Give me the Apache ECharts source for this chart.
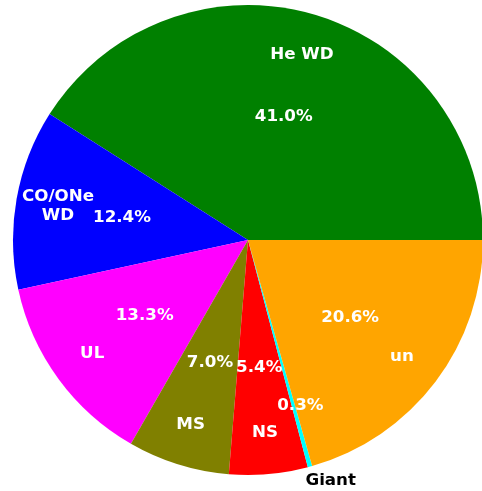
<!DOCTYPE html>
<html>
<head>
<meta charset="utf-8">
<script src="https://cdn.jsdelivr.net/npm/echarts@6/dist/echarts.min.js"></script>
<style>
  html, body { margin: 0; padding: 0; background: #fff; }
  #pie { width: 482px; height: 491px; }
</style>
</head>
<body>
<div id="pie"></div>
<script>
var names = ['He WD', 'CO/ONe\nWD', 'UL', 'MS', 'NS', 'Giant', 'un'];
var shares = [41.0, 12.4, 13.3, 7.0, 5.4, 0.3, 20.6];
var colors = ['#008000', '#0000ff', '#ff00ff', '#808000', '#ff0000', '#00ffff', '#ffa500'];

var pieChart = echarts.init(document.getElementById('pie'));

var font = {
    fontFamily: 'DejaVu Sans',
    fontWeight: 'bold',
    fontSize: 16.7,
    color: '#fff'
};

// builds one pie that only carries labels (no visible sectors)
function labelPie(radius, showFn, fmt, extra) {
    return {
        type: 'pie',
        center: [248, 240],
        radius: radius,
        startAngle: 0,
        clockwise: false,
        silent: true,
        avoidLabelOverlap: false,
        labelLayout: { hideOverlap: false },
        itemStyle: { color: 'transparent' },
        labelLine: { show: false },
        emphasis: { disabled: true },
        data: names.map(function (n, i) {
            return {
                name: n,
                value: shares[i],
                label: Object.assign({
                    show: showFn(n),
                    position: 'inside',
                    formatter: fmt,
                    lineHeight: 19
                }, font, extra || {})
            };
        })
    };
}

var option = {
    animation: false,
    series: [
        {
            type: 'pie',
            center: [248, 240],
            radius: 235,
            startAngle: 0,
            clockwise: false,
            silent: true,
            label: { show: false },
            labelLine: { show: false },
            itemStyle: { borderWidth: 0 },
            data: names.map(function (n, i) {
                return { name: n, value: shares[i], itemStyle: { color: colors[i] } };
            })
        },
        // names
        labelPie([145, 235], function (n) { return n !== 'Giant'; }, '{b}'),
        // percentages
        labelPie([15, 235], function (n) { return n !== 'Giant'; }, function (p) {
            return p.value.toFixed(1) + '%';
        }),
        // small slice: pct pushed further out
        labelPie([103, 235], function (n) { return n === 'Giant'; }, function (p) {
            return p.value.toFixed(1) + '%';
        }, { padding: [0, 0, 0, 14] }),
        // small slice: name outside the pie
        labelPie([236, 256], function (n) { return n === 'Giant'; }, '{b}',
            { color: '#000', padding: [0, 0, 0, 34] })
    ]
};

pieChart.setOption(option);
</script>
</body>
</html>
